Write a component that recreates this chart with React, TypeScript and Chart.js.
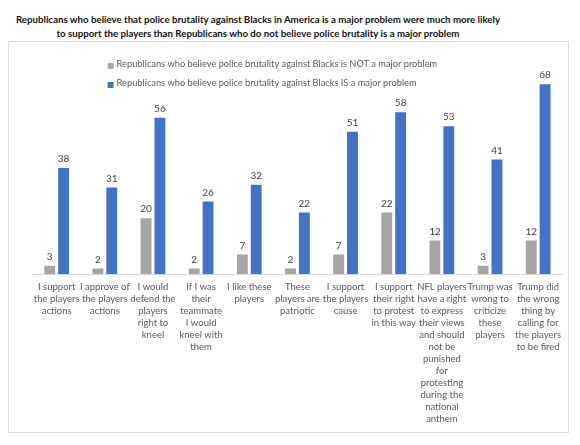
import React, { useEffect, useRef } from "react";
import { Chart, registerables } from "chart.js";

Chart.register(...registerables);

const titleLines = [
  "Republicans who believe that police brutality against Blacks in America is a major problem were much more likely",
  "to support the players than Republicans who do not believe police brutality is a major problem",
];

const categories: string[][] = [
  ["I support", "the players", "actions"],
  ["I approve of", "the players", "actions"],
  ["I would", "defend the", "players", "right to", "kneel"],
  ["If I was", "their", "teammate", "I would", "kneel with", "them"],
  ["I like these", "players"],
  ["These", "players are", "patriotic"],
  ["I support", "the players", "cause"],
  ["I support", "their right", "to protest", "in this way"],
  ["NFL players", "have a right", "to express", "their views", "and should", "not be", "punished", "for", "protesting", "during the", "national", "anthem"],
  ["Trump was", "wrong to", "criticize", "these", "players"],
  ["Trump did", "the wrong", "thing by", "calling for", "the players", "to be fired"],
];

const seriesNames = [
  "Republicans who believe police brutality against Blacks is NOT a major problem",
  "Republicans who believe police brutality against Blacks IS a major problem",
];
const notMajor = [3, 2, 20, 2, 7, 2, 7, 22, 12, 3, 12];
const isMajor = [38, 31, 56, 26, 32, 22, 51, 58, 53, 41, 68];

const FONT = "Lato, 'Open Sans', sans-serif";
const TEXT = "#595959";
const FS = 9.5;
const LEGEND_FS = 9.25;

const valueLabels = {
  id: "valueLabels",
  afterDatasetsDraw(chart: any) {
    const ctx = chart.ctx;
    ctx.save();
    ctx.font = `10px ${FONT}`;
    ctx.fillStyle = "#404040";
    ctx.textAlign = "center";
    ctx.textBaseline = "bottom";
    chart.data.datasets.forEach((ds: any, i: number) => {
      const meta = chart.getDatasetMeta(i);
      meta.data.forEach((bar: any, j: number) => {
        ctx.fillText(String(ds.data[j]), bar.x, bar.y - 4);
      });
    });
    ctx.restore();
  },
};

const customLegend = {
  id: "customLegend",
  afterDraw(chart: any) {
    const ctx = chart.ctx;
    const x0 = chart.chartArea.left + 75;
    const rows = [22, 41];
    ctx.save();
    ctx.font = `${LEGEND_FS}px ${FONT}`;
    ctx.textBaseline = "middle";
    ctx.textAlign = "left";
    chart.data.datasets.forEach((ds: any, i: number) => {
      const y = rows[i];
      ctx.fillStyle = ds.backgroundColor;
      ctx.fillRect(x0, y - 1, 6, 6);
      ctx.fillStyle = TEXT;
      ctx.fillText(ds.label, x0 + 9, y);
    });
    ctx.restore();
  },
};

export default function App() {
  const ref = useRef<HTMLCanvasElement | null>(null);
  useEffect(() => {
    if (!ref.current) return;
    const chart = new Chart(ref.current, {
      type: "bar",
      data: {
        labels: categories,
        datasets: [
          { label: seriesNames[0], data: notMajor, backgroundColor: "#A5A5A5" },
          { label: seriesNames[1], data: isMajor, backgroundColor: "#4472C4" },
        ],
      },
      options: {
        responsive: false,
        animation: false,
        layout: { padding: { left: 23.6, right: 0, top: 36.7, bottom: 0 } },
        datasets: { bar: { categoryPercentage: 0.575, barPercentage: 0.786 } },
        plugins: { legend: { display: false }, tooltip: { enabled: false }, title: { display: false } },
        scales: {
          x: {
            grid: { display: false, drawTicks: false },
            border: { display: true, color: "#d9d9d9" },
            ticks: {
              autoSkip: false,
              maxRotation: 0,
              minRotation: 0,
              padding: 7,
              color: TEXT,
              font: { family: FONT, size: FS, lineHeight: 12 / FS },
            },
            afterFit(scale: any) {
              scale.height = 158;
            },
          },
          y: { display: false, min: 0, max: 70 },
        },
      },
      plugins: [valueLabels, customLegend],
    });
    return () => chart.destroy();
  }, []);

  return (
    <div style={{ width: 561 }}>
      <div
        style={{
          width: 500,
          height: 33,
          boxSizing: "border-box",
          paddingTop: 5,
          textAlign: "center",
          fontFamily: FONT,
          fontWeight: 700,
          fontSize: 9.7,
          lineHeight: "13.5px",
          color: "#111",
          whiteSpace: "nowrap",
        }}
      >
        {titleLines.map((t, i) => (
          <div key={i}>{t}</div>
        ))}
      </div>
      <div style={{ width: 561, height: 392, boxSizing: "border-box", border: "1px solid #d9d9d9" }}>
        <canvas ref={ref} width={559} height={390} style={{ display: "block" }} />
      </div>
    </div>
  );
}
